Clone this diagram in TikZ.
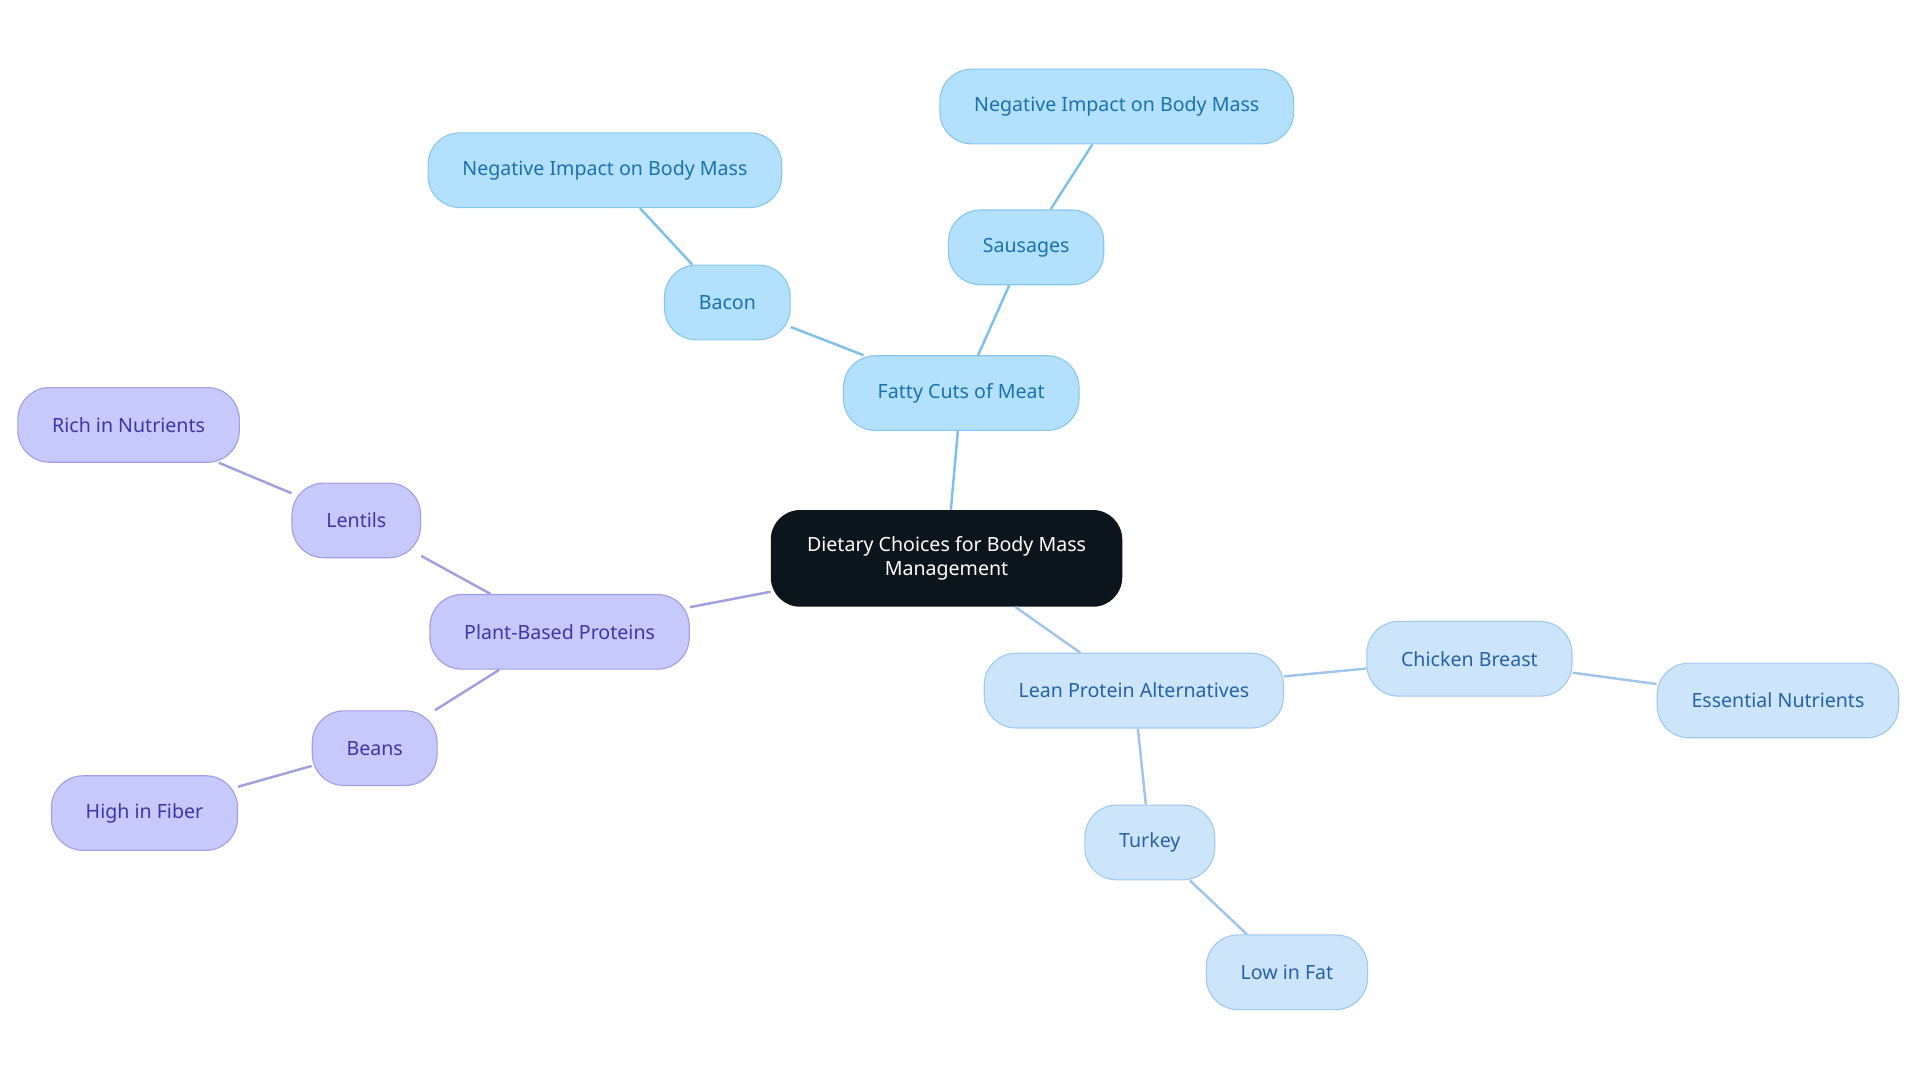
\documentclass[tikz,border=0pt]{standalone}
\usepackage{fontspec}
\setmainfont{Noto Sans}

\definecolor{rootfill}{HTML}{0C141C}
\definecolor{meatfill}{HTML}{B3E0FD}
\definecolor{meatdraw}{HTML}{88C8EE}
\definecolor{meattext}{HTML}{1A72AC}
\definecolor{meatline}{HTML}{7FC0E8}
\definecolor{leanfill}{HTML}{CCE5FB}
\definecolor{leandraw}{HTML}{A3C8EE}
\definecolor{leantext}{HTML}{2662A6}
\definecolor{leanline}{HTML}{A0C4EA}
\definecolor{plantfill}{HTML}{C7C8FC}
\definecolor{plantdraw}{HTML}{A09FE6}
\definecolor{planttext}{HTML}{3B38A6}
\definecolor{plantline}{HTML}{A09FE0}

\tikzset{
  topic/.style={rounded corners=26pt, minimum height=61pt, inner xsep=28pt,
    line width=0.9pt, font=\fontsize{16}{19}\selectfont},
  meat/.style={topic, fill=meatfill, draw=meatdraw, text=meattext},
  lean/.style={topic, fill=leanfill, draw=leandraw, text=leantext},
  plant/.style={topic, fill=plantfill, draw=plantdraw, text=planttext},
  link/.style={line width=2pt}
}

\begin{document}
\begin{tikzpicture}[x=1pt,y=-1pt]
\useasboundingbox (0,0) rectangle (1568,884);

\node (root) [fill=rootfill, text=white, rounded corners=24pt, minimum width=287pt,
  minimum height=79pt, align=center, font=\fontsize{16}{19}\selectfont]
  at (773,456) {Dietary Choices for Body Mass\\Management};

% fatty meat branch
\node (fatty) [meat] at (785,321) {Fatty Cuts of Meat};
\node (bacon) [meat] at (594,247) {Bacon};
\node (bacneg) [meat] at (494,139) {Negative Impact on Body Mass};
\node (saus) [meat] at (838,202) {Sausages};
\node (sausneg) [meat] at (912,87) {Negative Impact on Body Mass};

% plant branch
\node (plant) [plant] at (457,516) {Plant-Based Proteins};
\node (lentils) [plant] at (291,425) {Lentils};
\node (rich) [plant] at (105,347) {Rich in Nutrients};
\node (beans) [plant] at (306,611) {Beans};
\node (fiber) [plant] at (118,664) {High in Fiber};

% lean branch
\node (lean) [lean] at (926,564) {Lean Protein Alternatives};
\node (chicken) [lean] at (1200,538) {Chicken Breast};
\node (essent) [lean] at (1452,572) {Essential Nutrients};
\node (turkey) [lean] at (939,688) {Turkey};
\node (lowfat) [lean] at (1051,794) {Low in Fat};

\draw[link, meatline] (root) -- (fatty);
\draw[link, meatline] (fatty) -- (bacon);
\draw[link, meatline] (bacon) -- (bacneg);
\draw[link, meatline] (fatty) -- (saus);
\draw[link, meatline] (saus) -- (sausneg);
\draw[link, plantline] (root) -- (plant);
\draw[link, plantline] (plant) -- (lentils);
\draw[link, plantline] (lentils) -- (rich);
\draw[link, plantline] (plant) -- (beans);
\draw[link, plantline] (beans) -- (fiber);
\draw[link, leanline] (root) -- (lean);
\draw[link, leanline] (lean) -- (chicken);
\draw[link, leanline] (chicken) -- (essent);
\draw[link, leanline] (lean) -- (turkey);
\draw[link, leanline] (turkey) -- (lowfat);
\end{tikzpicture}
\end{document}
